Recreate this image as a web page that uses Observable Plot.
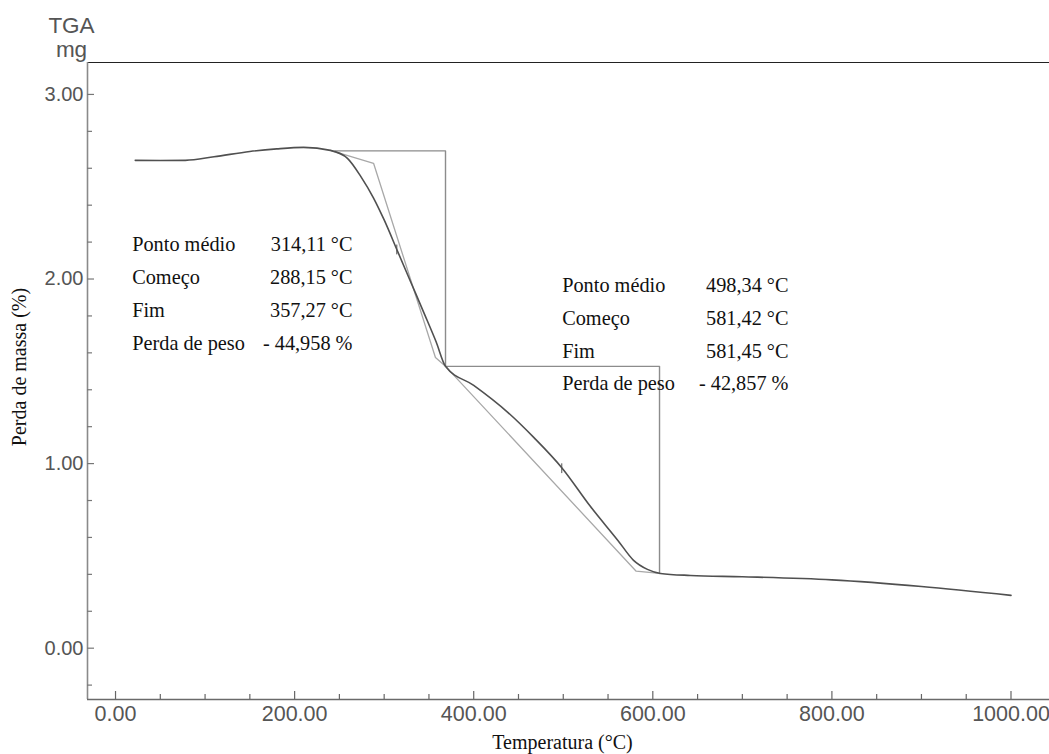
<!DOCTYPE html>
<html>
<head>
<meta charset="utf-8">
<script src="https://cdn.jsdelivr.net/npm/d3@7"></script>
<script src="https://cdn.jsdelivr.net/npm/@observablehq/plot@0.6"></script>
<style>
  html, body { margin: 0; padding: 0; background: #fff; }
  #chart svg { display: block; }
</style>
</head>
<body>
<div id="chart"></div>
<script>
// ---- data ----
const temperature = [22, 50, 78, 110, 150, 180, 210, 240, 259, 274, 288, 300, 315, 330, 345, 358, 368.5,
  400, 438, 467, 499, 530, 561, 578.5, 594, 608.6, 642, 700, 800, 900, 1000];
const mass = [2.643, 2.642, 2.643, 2.662, 2.691, 2.705, 2.713, 2.697, 2.654, 2.555, 2.44, 2.32, 2.15, 1.98, 1.81, 1.66, 1.527,
  1.424, 1.278, 1.142, 0.974, 0.77, 0.584, 0.476, 0.427, 0.405, 0.394, 0.387, 0.37, 0.334, 0.286];

const stepT = [245, 368.5, 368.5, 607.5, 607.5];
const stepM = [2.694, 2.694, 1.527, 1.527, 0.405];

const tangentT = [240, 288.15, 357.27, 368.5, 581.42, 607.5];
const tangentM = [2.697, 2.627, 1.575, 1.527, 0.417, 0.405];

const midT = [314.11, 498.34];
const midM = [2.16, 0.975];

const labels = ["Ponto médio", "Começo", "Fim", "Perda de peso"];
const step1Values = ["314,11 °C", "288,15 °C", "357,27 °C", "- 44,958 %"];
const step2Values = ["498,34 °C", "581,42 °C", "581,45 °C", "- 42,857 %"];

const xMajor = [0, 200, 400, 600, 800, 1000];
const xMinor = d3.range(0, 1050, 50).filter(v => v % 200 !== 0);
const yMajor = [0, 1, 2, 3];
const yMinor = [-0.2, 0.2, 0.4, 0.6, 0.8, 1.2, 1.4, 1.6, 1.8, 2.2, 2.4, 2.6, 2.8];

const xTitle = "Temperatura (°C)";
const yTitle = "Perda de massa (%)";
const unitTitle = ["TGA", "mg"];

// ---- build ----
const curve = temperature.map((t, i) => ({t, m: mass[i]}));
const step = stepT.map((t, i) => ({t, m: stepM[i]}));
const tangent = tangentT.map((t, i) => ({t, m: tangentM[i]}));
const mids = midT.map((t, i) => ({t, m: midM[i]}));

const W = 1049, H = 754, ML = 87, MR = 0, MT = 62, MB = 55;
const FW = W - ML - MR, FH = H - MT - MB;
const xDomain = [-31.3, 1043];
const yDomain = [-0.278, 3.173];

const SANS = "'Liberation Sans', Arial, sans-serif";
const SERIF = "'Liberation Serif', 'Times New Roman', serif";

const lineShape = {draw(context, l) { context.moveTo(0, 0); context.lineTo(0, -l); }};

function block(texts, dx, dy0, gap, anchor) {
  return texts.map((s, i) => Plot.text([s], {
    text: d => d, frameAnchor: "top-left", dx, dy: dy0 + i * gap,
    textAnchor: anchor, lineAnchor: "bottom",
    fontFamily: SERIF, fontSize: 20.3, fill: "#111"
  }));
}

const chart = Plot.plot({
  width: W,
  height: H,
  marginLeft: ML,
  marginRight: MR,
  marginTop: MT,
  marginBottom: MB,
  style: {fontFamily: SANS, background: "#fff"},
  x: {domain: xDomain},
  y: {domain: yDomain},
  marks: [
    // frame lines
    Plot.ruleY([yDomain[1]], {stroke: "#222", strokeWidth: 1.2}),
    Plot.ruleX([xDomain[0]], {stroke: "#8a8a8a", strokeWidth: 1.6}),
    Plot.ruleY([yDomain[0]], {stroke: "#6a6a6a", strokeWidth: 1.6}),
    // inward ticks
    Plot.ruleX(xMajor, {x: d => d, insetTop: FH - 8, stroke: "#666", strokeWidth: 1.2}),
    Plot.ruleX(xMinor, {x: d => d, insetTop: FH - 5, stroke: "#666", strokeWidth: 1.2}),
    Plot.ruleY(yMajor, {y: d => d, insetRight: FW - 7, stroke: "#777", strokeWidth: 1.2}),
    Plot.ruleY(yMinor, {y: d => d, insetRight: FW - 5, stroke: "#777", strokeWidth: 1.2}),
    // tick labels
    Plot.axisX({ticks: xMajor, tickSize: 0, tickPadding: 6, tickFormat: d3.format(".2f"),
      fontSize: 21.5, fill: "#555", label: null}),
    Plot.axisY({ticks: yMajor, tickSize: 0, tickPadding: 4, tickFormat: d3.format(".2f"),
      fontSize: 20, fill: "#555", label: null}),
    // step lines
    Plot.line(step, {x: "t", y: "m", stroke: "#8c8c8c", strokeWidth: 1.4}),
    // tangent lines
    Plot.line(tangent, {x: "t", y: "m", stroke: "#a8a8a8", strokeWidth: 1.3}),
    // main curve
    Plot.line(curve, {x: "t", y: "m", stroke: "#505050", strokeWidth: 1.6, curve: "monotone-x"}),
    // midpoint marks
    Plot.vector(mids, {x: "t", y: "m", length: 9, anchor: "middle", shape: lineShape, stroke: "#505050", strokeWidth: 1}),
    // annotations
    ...block(labels, 44.7, 188, 33.3, "start"),
    ...block(step1Values, 265, 188, 33.3, "end"),
    ...block(labels, 474.7, 229.5, 32.8, "start"),
    ...block(step2Values, 701, 229.5, 32.8, "end"),
    // axis titles
    Plot.text([xTitle], {text: d => d, frameAnchor: "bottom", dx: -6, dy: 49, lineAnchor: "bottom",
      fontFamily: SERIF, fontSize: 20, fill: "#111"}),
    Plot.text([yTitle], {text: d => d, frameAnchor: "left", dx: -67.5, dy: -14, rotate: -90, textAnchor: "middle",
      fontFamily: SERIF, fontSize: 20, fill: "#111"}),
    Plot.text([unitTitle[0]], {text: d => d, frameAnchor: "top-left", dx: -16, dy: -30, lineAnchor: "bottom",
      textAnchor: "middle", fontFamily: SANS, fontSize: 22.5, fill: "#555"}),
    Plot.text([unitTitle[1]], {text: d => d, frameAnchor: "top-left", dx: -16, dy: -6, lineAnchor: "bottom",
      textAnchor: "middle", fontFamily: SANS, fontSize: 22.5, fill: "#555"})
  ]
});
document.getElementById("chart").append(chart);
</script>
</body>
</html>
